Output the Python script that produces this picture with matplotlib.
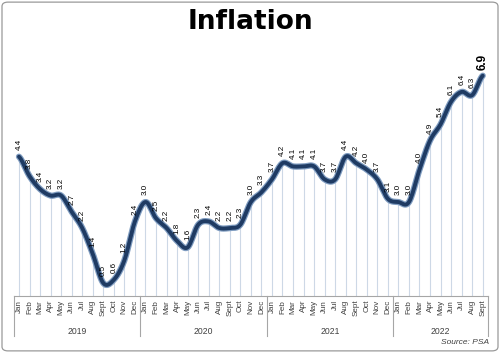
import numpy as np
import matplotlib.pyplot as plt
from matplotlib.patches import FancyBboxPatch
from matplotlib.transforms import blended_transform_factory

months = ["Jan", "Feb", "Mar", "Apr", "May", "Jun", "Jul", "Aug", "Sept", "Oct", "Nov", "Dec"]
years = ["2019", "2020", "2021", "2022"]
rate_2019 = [4.4, 3.8, 3.4, 3.2, 3.2, 2.7, 2.2, 1.4, 0.5, 0.6, 1.2, 2.4]
rate_2020 = [3.0, 2.5, 2.2, 1.8, 1.6, 2.3, 2.4, 2.2, 2.2, 2.3, 3.0, 3.3]
rate_2021 = [3.7, 4.2, 4.1, 4.1, 4.1, 3.7, 3.7, 4.4, 4.2, 4.0, 3.7, 3.1]
rate_2022 = [3.0, 3.0, 4.0, 4.9, 5.4, 6.1, 6.4, 6.3, 6.9]

rates = np.array(rate_2019 + rate_2020 + rate_2021 + rate_2022)
labels = months * 3 + months[:len(rate_2022)]
n_per_year = [len(rate_2019), len(rate_2020), len(rate_2021), len(rate_2022)]
x = np.arange(len(rates))

plt.rcParams['font.family'] = ['Liberation Sans', 'DejaVu Sans']


def smooth(xs, ys, steps=12):
    # catmull-rom for drawing a smoothed line like excel does
    px = np.concatenate([[2*xs[0]-xs[1]], xs, [2*xs[-1]-xs[-2]]])
    py = np.concatenate([[ys[0]], ys, [ys[-1]]])
    outx, outy = [], []
    for i in range(1, len(px)-2):
        t = np.linspace(0, 1, steps, endpoint=False)
        for arr, out in ((px, outx), (py, outy)):
            p0, p1, p2, p3 = arr[i-1], arr[i], arr[i+1], arr[i+2]
            out.extend(0.5*((2*p1) + (-p0+p2)*t + (2*p0-5*p1+4*p2-p3)*t**2 + (-p0+3*p1-3*p2+p3)*t**3))
    outx.append(xs[-1])
    outy.append(ys[-1])
    return np.array(outx), np.array(outy)


fig = plt.figure(figsize=(5, 3.53), dpi=100)
ax = fig.add_axes([0.0274, 0.1615, 0.9486, 0.725])

ymin = 0.1
ax.vlines(x, ymin, rates, color='#cdd8e6', lw=0.8, zorder=1)

sx, sy = smooth(x.astype(float), rates)
ax.plot(sx, sy, color='#7f9cc0', lw=4.5, solid_capstyle='round', zorder=2)
ax.plot(sx, sy, color='#1f3b63', lw=2.8, solid_capstyle='round', zorder=3)

for i, v in enumerate(rates):
    if i == len(rates) - 1:
        ax.annotate(f"{v:.1f}", (i, v), xytext=(0, 4), textcoords='offset points',
                    rotation=90, ha='center', va='bottom', fontsize=8.5, fontweight='bold')
    else:
        ax.annotate(f"{v:.1f}", (i, v), xytext=(0, 5), textcoords='offset points',
                    rotation=90, ha='center', va='bottom', fontsize=5.8, color='black')

ax.set_xlim(-0.5, len(rates) - 0.5)
ax.set_ylim(ymin, 8.0)
ax.set_xticks([])
ax.set_yticks([])
for s in ['top', 'left', 'right']:
    ax.spines[s].set_visible(False)
ax.spines['bottom'].set_color('#a6a6a6')
ax.spines['bottom'].set_linewidth(0.8)

tr = blended_transform_factory(ax.transData, ax.transAxes)
for i, lab in enumerate(labels):
    ax.text(i, -0.015, lab, transform=tr, rotation=90, ha='center', va='top',
            fontsize=5.8, color='#404040')

start = 0
edges = [-0.5]
for yr, n in zip(years, n_per_year):
    ax.text(start + (n - 1) / 2, -0.14, yr, transform=tr, ha='center', va='center',
            fontsize=6.2, color='#404040')
    start += n
    edges.append(start - 0.5)
for e in edges:
    ax.plot([e, e], [0, -0.155], transform=tr, color='#a6a6a6', lw=0.8, clip_on=False)

fig.text(0.5, 0.937, "Inflation", ha='center', va='center', fontsize=19,
         fontweight='heavy', family='DejaVu Sans')
fig.text(0.978, 0.03, "Source: PSA", ha='right', va='center', fontsize=6, style='italic',
         color='#404040')

border = FancyBboxPatch((0.004, 0.006), 0.992, 0.988, boxstyle="round,pad=0,rounding_size=0.012",
                        transform=fig.transFigure, fill=False, edgecolor='#9a9a9a', lw=0.9)
fig.patches.append(border)

fig.savefig("out.png", dpi=100)
